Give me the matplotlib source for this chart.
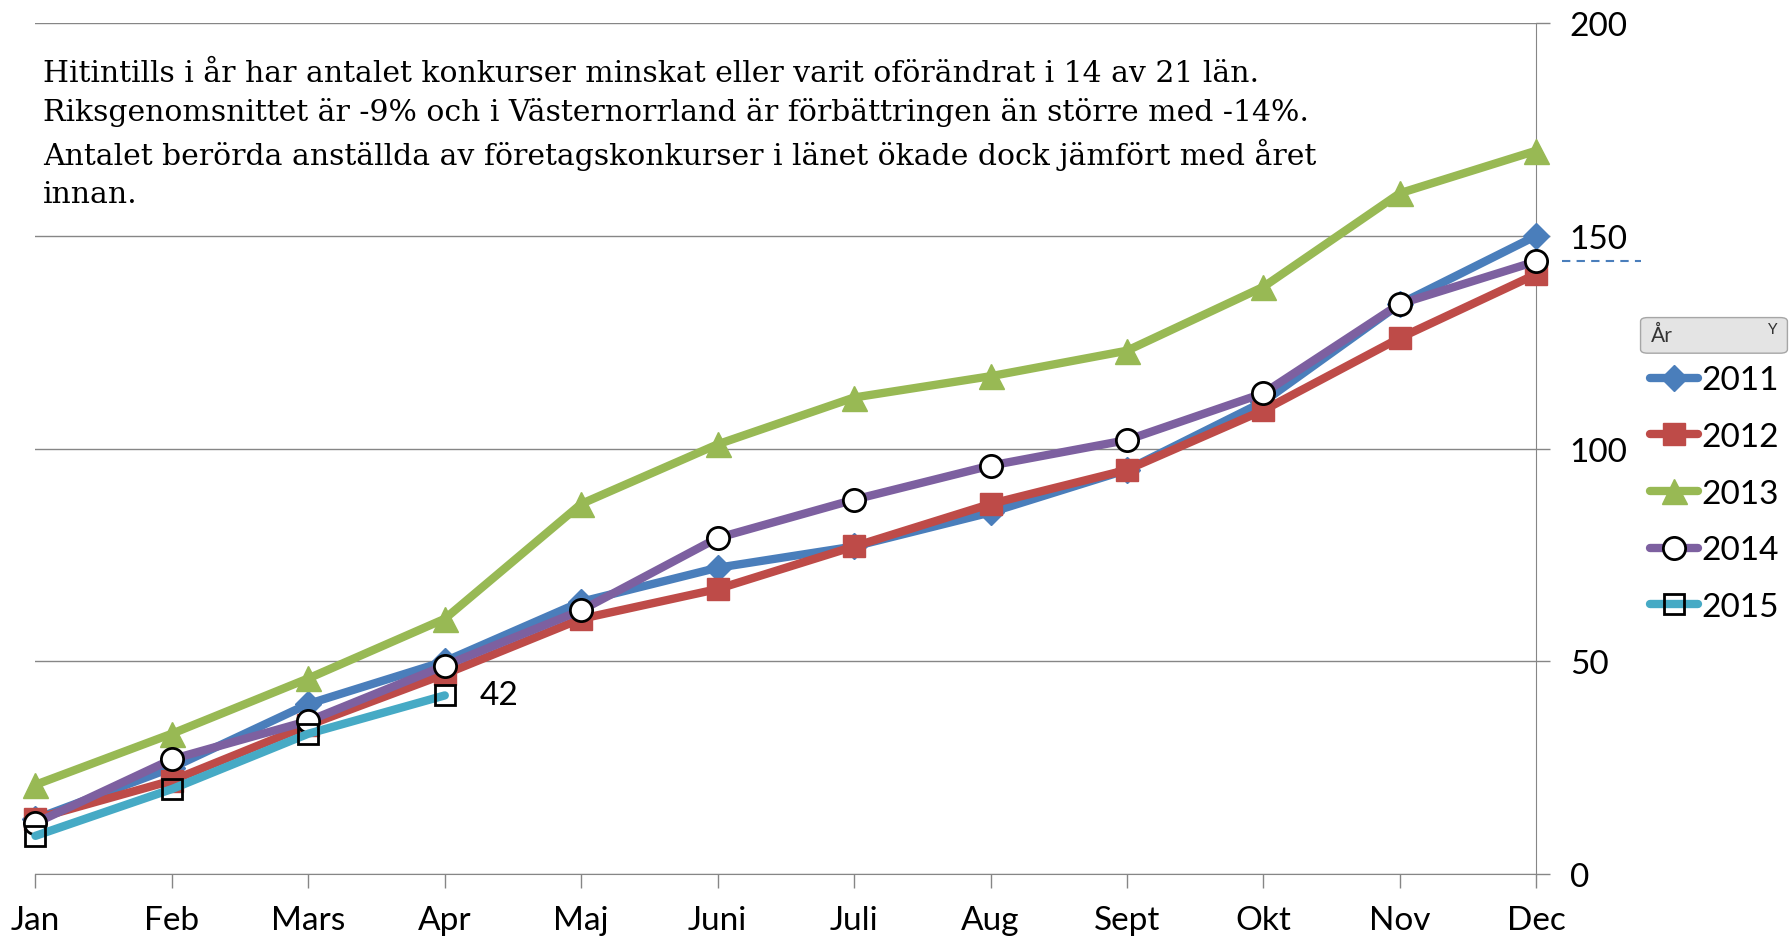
import matplotlib
matplotlib.use("Agg")
import matplotlib.pyplot as plt
from matplotlib.lines import Line2D
from matplotlib.patches import FancyBboxPatch

months = ["Jan", "Feb", "Mars", "Apr", "Maj", "Juni", "Juli", "Aug", "Sept", "Okt", "Nov", "Dec"]
y2011 = [13, 25, 40, 50, 64, 72, 77, 85, 95, 111, 134, 150]
y2012 = [13, 22, 35, 47, 60, 67, 77, 87, 95, 109, 126, 141]
y2013 = [21, 33, 46, 60, 87, 101, 112, 117, 123, 138, 160, 170]
y2014 = [12, 27, 36, 49, 62, 79, 88, 96, 102, 113, 134, 144]
y2015 = [9, 20, 33, 42]
yticks = [0, 50, 100, 150, 200]
note = ("Hitintills i år har antalet konkurser minskat eller varit oförändrat i 14 av 21 län.\n"
        "Riksgenomsnittet är -9% och i Västernorrland är förbättringen än större med -14%.\n"
        "Antalet berörda anställda av företagskonkurser i länet ökade dock jämfört med året\n"
        "innan.")

SANS = "Lato"
series = [
    ("2011", y2011, "#4A7EBB", dict(marker="D", ms=13, mfc="#4A7EBB", mec="#4A7EBB")),
    ("2012", y2012, "#BE4B48", dict(marker="s", ms=16, mfc="#BE4B48", mec="#BE4B48")),
    ("2013", y2013, "#98B954", dict(marker="^", ms=18, mfc="#98B954", mec="#98B954")),
    ("2014", y2014, "#7D60A0", dict(marker="o", ms=16, mfc="white", mec="black", mew=2)),
    ("2015", y2015, "#46AAC5", dict(marker="s", ms=15, mfc="none", mec="black", mew=2)),
]

fig = plt.figure(figsize=(17.91, 9.37), dpi=100)
ax = fig.add_axes([0.0198, 0.066, 0.838, 0.9084])

x = list(range(len(months)))
for lbl, vals, col, mk in series:
    ax.plot(x[:len(vals)], vals, color=col, lw=6, solid_capstyle="round",
            zorder=3, clip_on=False, **mk)

ax.annotate(str(y2015[-1]), (3, y2015[-1]), xytext=(25, 0), textcoords="offset points",
            va="center", ha="left", fontsize=24, family=SANS)

# dashed marker to the right of the axis at the 2014 Dec value
ax.plot([11.19, 11.77], [y2014[-1], y2014[-1]], color="#4A7EBB", lw=1.5,
        ls=(0, (4, 3)), clip_on=False)

ax.set_xlim(0, 11)
ax.set_ylim(0, 200)
ax.set_xticks(x)
ax.set_xticklabels(months, fontsize=24, family=SANS)
ax.set_yticks(yticks)
ax.set_yticklabels([str(t) for t in yticks], fontsize=24, family=SANS)
ax.yaxis.tick_right()
ax.tick_params(axis="y", length=10, width=1, color="#868686", pad=14)
ax.tick_params(axis="x", length=10, width=1, color="#868686", pad=12)
ax.grid(axis="y", color="#868686", lw=1)
ax.set_axisbelow(True)
for s in ["top", "left"]:
    ax.spines[s].set_visible(False)
for s in ["bottom", "right"]:
    ax.spines[s].set_color("#868686")

fig.text(0.024, 0.936, note, ha="left", va="top", fontsize=21.5, family="DejaVu Serif",
         linespacing=1.45)

# legend header button
hdr = FancyBboxPatch((0.918, 0.624), 0.078, 0.034, boxstyle="round,pad=0.002,rounding_size=0.004",
                     transform=fig.transFigure, facecolor="#E4E4E4", edgecolor="#A6A6A6", lw=1)
fig.patches.append(hdr)
fig.text(0.922, 0.641, "År", fontsize=15, family=SANS, va="center", ha="left", color="#333333")
fig.text(0.99, 0.648, "Y", fontsize=11, family=SANS, va="center", ha="center", color="#333333")

handles = [Line2D([], [], color=col, lw=6, solid_capstyle="round", **mk)
           for lbl, vals, col, mk in series]
fig.legend(handles, [s[0] for s in series], loc="upper left", bbox_to_anchor=(0.921, 0.609),
           frameon=False, prop={"family": SANS, "size": 24}, handlelength=1.45,
           handletextpad=0.1, labelspacing=0.8, borderpad=0, borderaxespad=0)

fig.savefig("out.png", dpi=100)
